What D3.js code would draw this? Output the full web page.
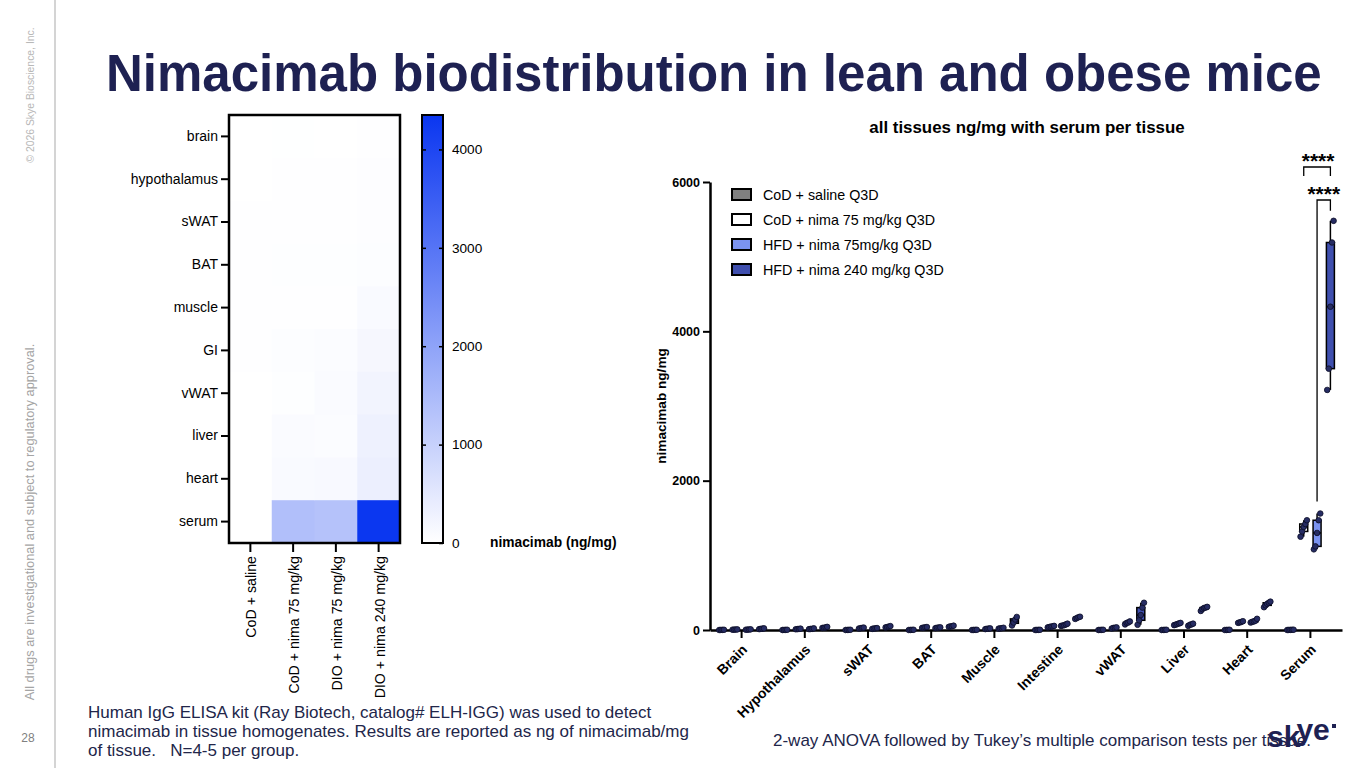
<!DOCTYPE html>
<html>
<head>
<meta charset="utf-8">
<script src="https://cdn.jsdelivr.net/npm/d3@7"></script>
<style>
body { margin: 0; background: #fff; }
svg { display: block; font-family: Arial, "Liberation Sans", sans-serif; }
</style>
</head>
<body>
<script>
// heatmap: mean ng/mg per tissue (rows), one array per treatment column
const heatTissues = ["brain", "hypothalamus", "sWAT", "BAT", "muscle", "GI", "vWAT", "liver", "heart", "serum"];
const heatGroups = ["CoD + saline", "CoD + nima 75 mg/kg", "DIO + nima 75 mg/kg", "DIO + nima 240 mg/kg"];
const heatCodSaline = [6, 8, 14, 14, 12, 12, 6, 6, 6, 0];
const heatCodNima75 = [10, 14, 25, 30, 18, 45, 28, 80, 108, 1380];
const heatDioNima75 = [8, 16, 20, 30, 22, 68, 95, 70, 122, 1320];
const heatDioNima240 = [18, 34, 42, 50, 115, 165, 230, 300, 345, 4330];
const colorTicks = [0, 1000, 2000, 3000, 4000];
const colorMax = 4350;

// box plot: individual animals per tissue, one array per group
const boxTissues = ["Brain", "Hypothalamus", "sWAT", "BAT", "Muscle", "Intestine", "vWAT", "Liver", "Heart", "Serum"];
const boxGroups = ["CoD + saline Q3D", "CoD + nima 75 mg/kg Q3D", "HFD + nima 75mg/kg Q3D", "HFD + nima 240 mg/kg Q3D"];
const codSaline = [
  [1, 2, 0, 3], [1, 3, 2, 0], [2, 1, 3, 0], [0, 2, 1, 3], [1, 0, 2, 3],
  [2, 1, 0, 3], [1, 2, 3, 0], [0, 1, 2, 3], [2, 0, 1, 3], [3, 1, 2, 0, 4]
];
const codNima75 = [
  [4, 6, 8, 5], [10, 14, 18, 12], [20, 28, 32, 24], [28, 36, 40, 32], [12, 18, 22, 16],
  [35, 45, 55, 48, 40], [20, 28, 35, 30], [65, 80, 95, 72, 88], [95, 108, 118, 102],
  [1250, 1320, 1380, 1420, 1470]
];
const hfdNima75 = [
  [4, 7, 9, 5], [12, 16, 22, 14], [15, 20, 26, 22], [25, 30, 36, 33], [18, 24, 30, 22],
  [55, 65, 85, 75, 60], [75, 95, 115, 100], [55, 70, 85, 75], [100, 115, 150, 125, 110],
  [1080, 1120, 1300, 1470, 1560]
];
const hfdNima240 = [
  [12, 18, 22, 15], [28, 35, 42, 30], [35, 45, 52, 40], [42, 50, 58, 48], [60, 100, 140, 175],
  [148, 160, 170, 178], [70, 130, 200, 300, 365], [255, 280, 295, 310, 300], [305, 330, 350, 365, 380],
  [3215, 3500, 4330, 5190, 5480]
];
const yTicks = [0, 2000, 4000, 6000];
const groupColors = ["#808080", "#ffffff", "#7b93f0", "#3f4fae"];

const NAVY = "#1e2152";
const FONT = "Arial, 'Liberation Sans', sans-serif";

const svg = d3.select("body").append("svg")
  .attr("width", 1365)
  .attr("height", 768);

// side bar
svg.append("line")
  .attr("x1", 55).attr("x2", 55).attr("y1", 0).attr("y2", 768)
  .attr("stroke", "#d4d4d4").attr("stroke-width", 2);

svg.append("text")
  .attr("transform", "translate(34,95) rotate(-90)")
  .attr("text-anchor", "middle")
  .attr("font-size", 10.4)
  .attr("fill", "#b8b8b8")
  .text("© 2026 Skye Bioscience, Inc.");

svg.append("text")
  .attr("transform", "translate(34,522) rotate(-90)")
  .attr("text-anchor", "middle")
  .attr("font-size", 12.8)
  .attr("fill", "#a4a4a4")
  .text("All drugs are investigational and subject to regulatory approval.");

svg.append("text")
  .attr("x", 28).attr("y", 742)
  .attr("text-anchor", "middle")
  .attr("font-size", 12)
  .attr("fill", "#808080")
  .text("28");

// title
svg.append("text")
  .attr("x", 106).attr("y", 91)
  .attr("font-size", 51)
  .attr("font-weight", "bold")
  .attr("fill", NAVY)
  .text("Nimacimab biodistribution in lean and obese mice");

// ---------- heatmap ----------
const hmX = d3.scaleBand().domain(heatGroups).range([229, 400]);
const hmY = d3.scaleBand().domain(heatTissues).range([115, 543]);
const heatColor = d3.scaleLinear().domain([0, colorMax]).range(["#ffffff", "#0a36f0"]);
const heatColumns = [heatCodSaline, heatCodNima75, heatDioNima75, heatDioNima240];

let cells = [];
heatGroups.forEach((g, j) => {
  heatTissues.forEach((t, i) => {
    cells.push({ group: g, tissue: t, value: heatColumns[j][i] });
  });
});

svg.append("g").selectAll("rect")
  .data(cells)
  .enter()
  .append("rect")
  .attr("x", d => hmX(d.group))
  .attr("y", d => hmY(d.tissue))
  .attr("width", hmX.bandwidth() + 0.5)
  .attr("height", hmY.bandwidth() + 0.5)
  .attr("fill", d => heatColor(d.value));

svg.append("rect")
  .attr("x", 229).attr("y", 115)
  .attr("width", 171).attr("height", 428)
  .attr("fill", "none")
  .attr("stroke", "#000")
  .attr("stroke-width", 2.5);

const hmLeft = svg.append("g")
  .attr("transform", "translate(228,0)")
  .call(d3.axisLeft(hmY).tickSize(7).tickSizeOuter(0).tickPadding(3));
hmLeft.select(".domain").remove();
hmLeft.selectAll("line").attr("stroke-width", 2);
hmLeft.selectAll("text")
  .attr("font-size", 14)
  .attr("font-family", FONT)
  .attr("fill", "#000");

const hmBottom = svg.append("g")
  .attr("transform", "translate(0,544)")
  .call(d3.axisBottom(hmX).tickSize(8).tickSizeOuter(0));
hmBottom.select(".domain").remove();
hmBottom.selectAll("line").attr("stroke-width", 2);
hmBottom.selectAll("text")
  .attr("font-size", 14.2)
  .attr("font-family", FONT)
  .attr("fill", "#000")
  .attr("text-anchor", "end")
  .attr("transform", "translate(1,2) rotate(-90)")
  .attr("x", -10)
  .attr("y", 0)
  .attr("dy", "0.35em");

// colour bar
const grad = svg.append("defs").append("linearGradient")
  .attr("id", "cbar")
  .attr("x1", 0).attr("y1", 1).attr("x2", 0).attr("y2", 0);
d3.range(0, 1.01, 0.1).forEach(t => {
  grad.append("stop")
    .attr("offset", t)
    .attr("stop-color", heatColor(t * colorMax));
});

const cScale = d3.scaleLinear().domain([0, colorMax]).range([543, 115]);

svg.append("rect")
  .attr("x", 422).attr("y", 115)
  .attr("width", 21).attr("height", 428)
  .attr("fill", "url(#cbar)")
  .attr("stroke", "#000")
  .attr("stroke-width", 2);

const cRight = svg.append("g")
  .attr("transform", "translate(443,0)")
  .call(d3.axisRight(cScale).tickValues(colorTicks).tickSizeInner(-4).tickSizeOuter(0).tickPadding(9).tickFormat(d3.format("d")));
cRight.select(".domain").remove();
cRight.selectAll("line").attr("stroke-width", 1.5);
cRight.selectAll("text")
  .attr("font-size", 13.6)
  .attr("font-family", FONT)
  .attr("fill", "#000");

const cLeft = svg.append("g")
  .attr("transform", "translate(422,0)")
  .call(d3.axisRight(cScale).tickValues(colorTicks.slice(1)).tickSize(4).tickFormat(""));
cLeft.select(".domain").remove();
cLeft.selectAll("line").attr("stroke-width", 1.5);

svg.append("text")
  .attr("x", 490).attr("y", 547)
  .attr("font-size", 13.8)
  .attr("font-weight", "bold")
  .text("nimacimab (ng/mg)");

// ---------- box plot ----------
const bx = d3.scaleBand().domain(boxTissues).range([710, 1342]);
const bg = d3.scalePoint().domain(boxGroups).range([-20, 20]);
const by = d3.scaleLinear().domain([0, 6000]).range([630, 182]);
const groupData = [codSaline, codNima75, hfdNima75, hfdNima240];

svg.append("text")
  .attr("x", 1027).attr("y", 133)
  .attr("text-anchor", "middle")
  .attr("font-size", 16.9)
  .attr("font-weight", "bold")
  .text("all tissues ng/mg with serum per tissue");

svg.append("text")
  .attr("transform", "translate(666,406) rotate(-90)")
  .attr("text-anchor", "middle")
  .attr("font-size", 13.6)
  .attr("font-weight", "bold")
  .text("nimacimab ng/mg");

const yAxis = svg.append("g")
  .attr("transform", "translate(710,0)")
  .call(d3.axisLeft(by).tickValues(yTicks).tickSize(7).tickSizeOuter(0).tickPadding(3).tickFormat(d3.format("d")));
yAxis.select(".domain").attr("stroke-width", 2.5);
yAxis.selectAll("line").attr("stroke-width", 2);
yAxis.selectAll("text")
  .attr("font-size", 12.5)
  .attr("font-weight", "bold")
  .attr("font-family", FONT)
  .attr("fill", "#000");

const xAxis = svg.append("g")
  .attr("transform", "translate(0,630)")
  .call(d3.axisBottom(bx).tickSize(8).tickSizeOuter(0));
xAxis.select(".domain").attr("stroke-width", 2.5);
xAxis.selectAll("line").attr("stroke-width", 2);
xAxis.selectAll("text")
  .attr("font-size", 14)
  .attr("font-weight", "bold")
  .attr("font-family", FONT)
  .attr("fill", "#000")
  .attr("text-anchor", "end")
  .attr("transform", "translate(3,17) rotate(-45)")
  .attr("x", 0)
  .attr("y", 0)
  .attr("dy", "0.35em");

let boxes = [];
boxTissues.forEach((t, i) => {
  boxGroups.forEach((g, j) => {
    let vals = groupData[j][i].slice().sort(d3.ascending);
    boxes.push({
      tissue: t, group: g, idx: j, vals: vals,
      min: vals[0], max: vals[vals.length - 1],
      q1: d3.quantile(vals, 0.25), med: d3.quantile(vals, 0.5), q3: d3.quantile(vals, 0.75),
      cx: bx(t) + bx.bandwidth() / 2 + bg(g)
    });
  });
});

const boxG = svg.append("g");
boxG.selectAll(".whisker")
  .data(boxes)
  .enter()
  .append("line")
  .attr("class", "whisker")
  .attr("x1", d => d.cx).attr("x2", d => d.cx)
  .attr("y1", d => by(d.min)).attr("y2", d => by(d.max))
  .attr("stroke", "#000")
  .attr("stroke-width", 1.5);

boxG.selectAll(".box")
  .data(boxes)
  .enter()
  .append("rect")
  .attr("class", "box")
  .attr("x", d => d.cx - 4)
  .attr("y", d => by(d.q3))
  .attr("width", 8)
  .attr("height", d => by(d.q1) - by(d.q3))
  .attr("fill", d => groupColors[d.idx])
  .attr("stroke", "#000")
  .attr("stroke-width", 1.5);

boxG.selectAll(".median")
  .data(boxes)
  .enter()
  .append("line")
  .attr("class", "median")
  .attr("x1", d => d.cx - 4).attr("x2", d => d.cx + 4)
  .attr("y1", d => by(d.med)).attr("y2", d => by(d.med))
  .attr("stroke", "#000")
  .attr("stroke-width", 1.5);

let points = [];
boxes.forEach(b => {
  let n = b.vals.length;
  b.vals.forEach((v, k) => {
    points.push({ x: b.cx + (k - (n - 1) / 2) * 1.6, v: v });
  });
});

boxG.selectAll("circle")
  .data(points)
  .enter()
  .append("circle")
  .attr("cx", d => d.x)
  .attr("cy", d => by(d.v))
  .attr("r", 2.8)
  .attr("fill", "#262c63")
  .attr("stroke", "#0b0d26")
  .attr("stroke-width", 0.8);

// legend
const legend = svg.append("g");
boxGroups.forEach((g, j) => {
  legend.append("rect")
    .attr("x", 732).attr("y", 189 + 25 * j)
    .attr("width", 19).attr("height", 11)
    .attr("fill", groupColors[j])
    .attr("stroke", "#000")
    .attr("stroke-width", 2);
  legend.append("text")
    .attr("x", 763).attr("y", 194.5 + 25 * j)
    .attr("dy", "0.35em")
    .attr("font-size", 14.3)
    .text(g);
});

// significance brackets on serum
const serumBoxes = boxes.filter(b => b.tissue === "Serum");
const b2 = serumBoxes[1], b3 = serumBoxes[2], b4 = serumBoxes[3];

svg.append("path")
  .attr("d", `M${b2.cx},176 V167 H${b4.cx} V176`)
  .attr("fill", "none").attr("stroke", "#000").attr("stroke-width", 1.3);
svg.append("text")
  .attr("x", (b2.cx + b4.cx) / 2 + 1).attr("y", 168)
  .attr("text-anchor", "middle")
  .attr("font-size", 21).attr("font-weight", "bold")
  .text("****");

svg.append("path")
  .attr("d", `M${b3.cx},${by(b3.max) - 12} V200 H${b4.cx} V${by(b4.max) - 10}`)
  .attr("fill", "none").attr("stroke", "#000").attr("stroke-width", 1.3);
svg.append("text")
  .attr("x", (b3.cx + b4.cx) / 2 + 0).attr("y", 201)
  .attr("text-anchor", "middle")
  .attr("font-size", 21).attr("font-weight", "bold")
  .text("****");

// footnotes
const foot = svg.append("text")
  .attr("font-size", 17)
  .attr("fill", "#22264a");
["Human IgG ELISA kit (Ray Biotech, catalog# ELH-IGG) was used to detect",
 "nimacimab in tissue homogenates. Results are reported as ng of nimacimab/mg",
 "of tissue.\u00a0\u00a0\u00a0N=4-5 per group."].forEach((line, i) => {
  foot.append("tspan").attr("x", 88).attr("y", 718 + 19 * i).text(line);
});

svg.append("text")
  .attr("x", 773).attr("y", 746)
  .attr("font-size", 17)
  .attr("fill", "#22264a")
  .text("2-way ANOVA followed by Tukey’s multiple comparison tests per tissue.");

// logo (sits over the end of the note, as on the slide)
const logo = svg.append("text")
  .attr("x", 1267).attr("y", 747)
  .attr("font-size", 30).attr("font-weight", "bold")
  .attr("fill", NAVY);
logo.append("tspan").text("sk");
logo.append("tspan").attr("dx", -4).attr("dy", -7).text("ye");
svg.append("rect")
  .attr("x", 1332).attr("y", 724)
  .attr("width", 4).attr("height", 4)
  .attr("fill", NAVY);
</script>
</body>
</html>
